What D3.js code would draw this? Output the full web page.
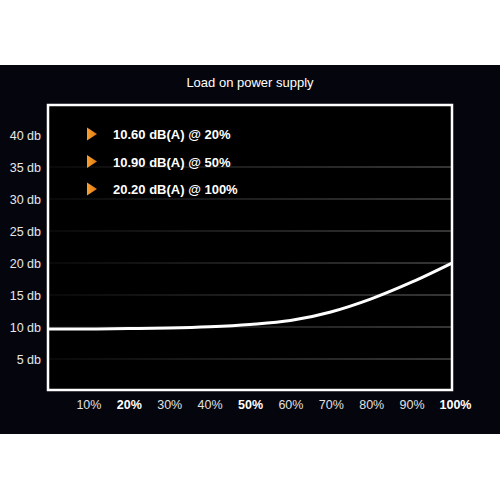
<!DOCTYPE html>
<html>
<head>
<meta charset="utf-8">
<script src="https://cdn.jsdelivr.net/npm/d3@7"></script>
<style>
  body { margin: 0; background: #fff; }
  svg { display: block; font-family: "Liberation Sans", Arial, Helvetica, sans-serif; }
</style>
</head>
<body>
<div id="chart"></div>
<script>
var svgWidth = 500;
var svgHeight = 500;

// data
var loads = [0, 10, 20, 30, 40, 50, 60, 70, 80, 90, 100]; // % load
var noise = [9.7, 9.7, 9.75, 9.85, 10.05, 10.4, 11.0, 12.35, 14.4, 17.0, 20.0]; // db
var xTicks = [10, 20, 30, 40, 50, 60, 70, 80, 90, 100];
var boldTicks = [20, 50, 100];
var yTicks = [5, 10, 15, 20, 25, 30, 35, 40];
var gridTicks = [5, 10, 15, 20, 25, 30, 35];
var legendLabels = ["10.60 dB(A) @ 20%", "10.90 dB(A) @ 50%", "20.20 dB(A) @ 100%"];
var title = "Load on power supply";

var plot = { left: 48, right: 452, top: 105, bottom: 390 };

var svg = d3.select("#chart").append("svg")
    .attr("width", svgWidth)
    .attr("height", svgHeight);

var defs = svg.append("defs");
var gridGrad = defs.append("linearGradient") // grid lines fade toward the left
    .attr("id", "gridGrad")
    .attr("gradientUnits", "userSpaceOnUse")
    .attr("x1", plot.left).attr("x2", plot.right).attr("y1", 0).attr("y2", 0);
gridGrad.append("stop").attr("offset", "0%").attr("stop-color", "#111");
gridGrad.append("stop").attr("offset", "100%").attr("stop-color", "#6a6a6a");

var triGrad = defs.append("linearGradient")
    .attr("id", "triGrad")
    .attr("x1", 0).attr("x2", 1).attr("y1", 0).attr("y2", 0);
triGrad.append("stop").attr("offset", "0%").attr("stop-color", "#f7a030");
triGrad.append("stop").attr("offset", "100%").attr("stop-color", "#e07810");

// dark background band
svg.append("rect")
    .attr("x", 0).attr("y", 65)
    .attr("width", svgWidth).attr("height", 369)
    .attr("fill", "#05060d");

svg.append("rect") // inner plot area
    .attr("x", plot.left).attr("y", plot.top)
    .attr("width", plot.right - plot.left).attr("height", plot.bottom - plot.top)
    .attr("fill", "#000");

var x = d3.scaleLinear().domain([0, 100]).range([plot.left, plot.right]);
var y = d3.scaleLinear().domain([0, 40]).range([plot.bottom + 1, 135]);

// grid lines
svg.append("g").selectAll("line")
    .data(gridTicks)
    .join("line")
    .attr("x1", plot.left).attr("x2", plot.right)
    .attr("y1", d => y(d)).attr("y2", d => y(d))
    .attr("stroke", "url(#gridGrad)")
    .attr("stroke-width", 1.2);

// y axis labels
var yAxis = svg.append("g")
    .attr("transform", `translate(${plot.left}, 0)`)
    .call(d3.axisLeft(y).tickValues(yTicks).tickFormat(d => d + " db").tickSize(0).tickPadding(7));
yAxis.select(".domain").remove();
yAxis.selectAll("text")
    .attr("fill", "#e8e8e8")
    .style("font-size", "12.5px");

// x axis labels
var xAxis = svg.append("g")
    .attr("transform", `translate(0, ${plot.bottom})`)
    .call(d3.axisBottom(x).tickValues(xTicks).tickFormat(d => d + "%").tickSize(0).tickPadding(10));
xAxis.select(".domain").remove();
xAxis.selectAll("text")
    .attr("fill", d => boldTicks.includes(d) ? "#fff" : "#e0e0e0")
    .style("font-weight", d => boldTicks.includes(d) ? "bold" : "normal")
    .style("font-size", "12.5px")
    .attr("dx", d => d === 100 ? 3 : 0);

// curve
var line = d3.line()
    .x((d, i) => x(loads[i]))
    .y(d => y(d))
    .curve(d3.curveMonotoneX);

svg.append("path")
    .datum(noise)
    .attr("d", line)
    .attr("fill", "none")
    .attr("stroke", "#fff")
    .attr("stroke-width", 3);

// frame
svg.append("rect")
    .attr("x", plot.left).attr("y", plot.top)
    .attr("width", plot.right - plot.left).attr("height", plot.bottom - plot.top)
    .attr("fill", "none")
    .attr("stroke", "#fff")
    .attr("stroke-width", 2.5);

// title
svg.append("text")
    .attr("x", 250).attr("y", 87)
    .attr("text-anchor", "middle")
    .attr("fill", "#fff")
    .style("font-size", "13px")
    .text(title);

// legend
var legend = svg.append("g").selectAll("g")
    .data(legendLabels)
    .join("g")
    .attr("transform", (d, i) => `translate(87, ${134 + i * 27.5})`);
legend.append("path")
    .attr("d", "M0,-6.5 L10,0 L0,6.5 Z")
    .attr("fill", "url(#triGrad)");
legend.append("text")
    .attr("x", 26).attr("y", 5)
    .attr("fill", "#fff")
    .style("font-size", "13px")
    .style("font-weight", "bold")
    .text(d => d);
</script>
</body>
</html>
